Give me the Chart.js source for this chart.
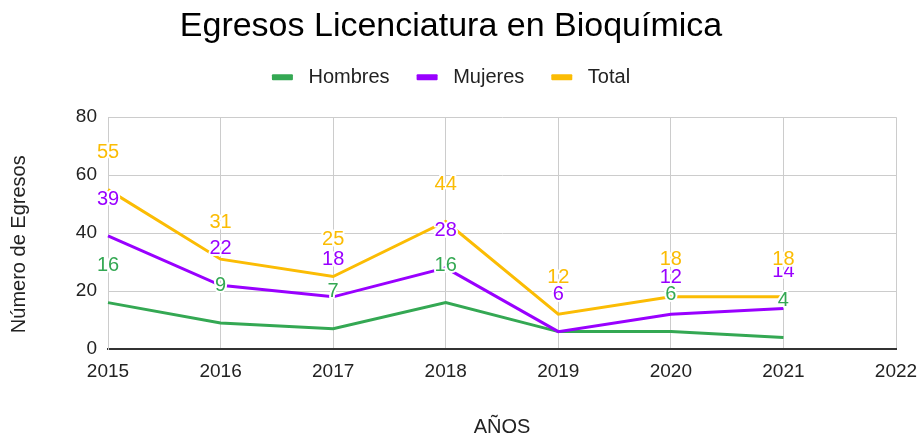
<!DOCTYPE html>
<html><head><meta charset="utf-8">
<script src="https://cdn.jsdelivr.net/npm/chart.js@4.4.1/dist/chart.umd.min.js"></script>
<style>html,body{margin:0;padding:0;background:#fff}#wrap{width:922px;height:437px}</style>
</head><body><div id="wrap"><canvas id="c" width="922" height="437"></canvas></div>
<script>
const years = ['2015','2016','2017','2018','2019','2020','2021','2022'];
const hombres = [16, 9, 7, 16, 6, 6, 4];
const mujeres = [39, 22, 18, 28, 6, 12, 14];
const total = [55, 31, 25, 44, 12, 18, 18];
const seriesNames = ['Hombres', 'Mujeres', 'Total'];
const yMin = 0, yMax = 80, yStep = 20;

Chart.defaults.font.family = "'Liberation Sans', Arial, sans-serif";

const pointLabels = {
  id: 'pointLabels',
  afterDatasetsDraw(chart) {
    const ctx = chart.ctx;
    ctx.save();
    ctx.font = "20px 'Liberation Sans', Arial, sans-serif";
    ctx.textAlign = 'center';
    ctx.textBaseline = 'middle';
    ctx.lineJoin = 'round';
    chart.data.datasets.forEach((ds, i) => {
      const meta = chart.getDatasetMeta(i);
      meta.data.forEach((pt, j) => {
        const t = String(ds.data[j]);
        const x = pt.x, y = pt.y - 37;
        ctx.strokeStyle = '#ffffff';
        ctx.lineWidth = 4;
        ctx.strokeText(t, x, y);
        ctx.fillStyle = ds.borderColor;
        ctx.fillText(t, x, y);
      });
    });
    ctx.restore();
  }
};

new Chart(document.getElementById('c'), {
  type: 'line',
  data: {
    labels: years,
    datasets: [
      { label: seriesNames[0], data: hombres, borderColor: '#34a853', backgroundColor: '#34a853', borderWidth: 3, pointRadius: 0, tension: 0, fill: false, order: 3 },
      { label: seriesNames[1], data: mujeres, borderColor: '#9900ff', backgroundColor: '#9900ff', borderWidth: 3, pointRadius: 0, tension: 0, fill: false, order: 2 },
      { label: seriesNames[2], data: total, borderColor: '#fbbc04', backgroundColor: '#fbbc04', borderWidth: 3, pointRadius: 0, tension: 0, fill: false, order: 1 }
    ]
  },
  options: {
    responsive: false,
    animation: false,
    devicePixelRatio: 1,
    layout: { padding: { left: 6, right: 26, top: 0, bottom: 0 } },
    plugins: {
      tooltip: { enabled: false },
      title: {
        display: true, text: 'Egresos Licenciatura en Bioquímica', color: '#000',
        font: { size: 34, weight: 'normal', lineHeight: 0.8 }, padding: { top: 13, bottom: 0 }
      },
      subtitle: {
        display: true, text: '', weight: 500, font: { size: 20, lineHeight: 1 }, padding: { top: 0, bottom: 0 }
      },
      legend: {
        display: true, position: 'top',
        labels: {
          boxWidth: 21, boxHeight: 6, padding: 27, color: '#222', font: { size: 20 },
          generateLabels(chart) {
            return chart.data.datasets.map((ds, i) => ({
              text: ' ' + ds.label, fillStyle: ds.borderColor, strokeStyle: ds.borderColor,
              lineWidth: 0, hidden: false, datasetIndex: i, borderRadius: 1, fontColor: '#222'
            }));
          }
        }
      }
    },
    scales: {
      x: {
        type: 'category', offset: false,
        grid: { color: '#cccccc', drawTicks: false, lineWidth: 1 },
        border: { color: '#333333', width: 2 },
        ticks: { color: '#222', font: { size: 19 }, padding: 11, maxRotation: 0, autoSkip: false },
        title: { display: true, text: 'AÑOS', color: '#222', font: { size: 20, lineHeight: 1 }, padding: 0 },
        afterFit(s) { s.height = 88; s.paddingRight = 0; s.paddingLeft = 0; }
      },
      y: {
        min: yMin, max: yMax,
        ticks: { stepSize: yStep, color: '#222', font: { size: 19 }, padding: 11 },
        grid: { color: '#cccccc', drawTicks: false },
        border: { color: '#cccccc', width: 1 },
        title: { display: true, text: 'Número de Egresos    ', color: '#222', font: { size: 20, lineHeight: 1 }, padding: { top: 3, bottom: 0 } },
        afterFit(s) { s.width = 102; }
      }
    }
  },
  plugins: [pointLabels]
});
</script>
</body></html>
